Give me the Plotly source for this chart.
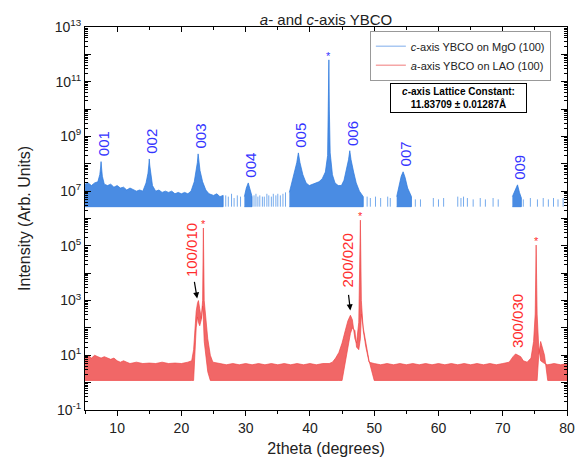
import math
import plotly.graph_objects as go

# ---------------- data ----------------
# c-axis YBCO on MgO (100): dense parts of the noisy trace, segments separated by None
blue_x = [5.0, 5.5, 6.0, 6.5, 7.0, 7.3, 7.42, 7.5, 7.58, 7.7, 8.0, 8.5, 9.0, 9.5, 10.0, 10.5,
          11.0, 11.5, 12.0, 12.5, 13.0, 13.5, 14.0, 14.5, 14.8, 14.93, 15.0, 15.07, 15.2, 15.5,
          16.0, 16.5, 17.0, 17.5, 18.0, 18.5, 19.0, 19.5, 20.0, 20.5, 21.0, 21.5, 22.0, 22.3,
          22.48, 22.6, 22.72, 22.9, 23.3, 23.8, 24.3, 25.0, 25.5, 26.0, 26.5, None,
          29.8, 30.1, 30.4, 30.7, 31.0, None,
          36.8, 37.2, 37.6, 37.95, 38.2, 38.45, 38.9, 39.4, 39.9, 40.4, 40.9, 41.4, 41.9, 42.4,
          42.75, 42.88, 42.95, 43.02, 43.15, 43.5, 43.9, 44.4, 44.9, 45.3, 45.7, 46.0, 46.2,
          46.4, 46.8, 47.2, 47.7, 48.3, None,
          53.5, 53.9, 54.2, 54.5, 54.8, 55.2, 55.8, None,
          71.5, 71.9, 72.3, 72.6, 72.9]
blue_top = [1.8e7, 2.0e7, 1.6e7, 2.0e7, 2.2e7, 4.0e7, 7.0e7, 1.2e8, 7.0e7, 3.5e7, 1.8e7, 1.6e7,
            1.8e7, 1.4e7, 1.6e7, 1.3e7, 1.4e7, 1.1e7, 1.3e7, 1.1e7, 1.0e7, 1.1e7, 1.0e7, 2.0e7,
            4.5e7, 9.0e7, 1.5e8, 9.0e7, 4.5e7, 1.6e7, 1.0e7, 1.1e7, 9.0e6, 1.0e7, 9.0e6, 1.0e7,
            8.0e6, 9.0e6, 8.0e6, 9.0e6, 8.0e6, 1.0e7, 2.2e7, 5.6e7, 1.1e8, 2.3e8, 1.1e8, 5.6e7,
            2.2e7, 1.1e7, 8.0e6, 7.0e6, 8.0e6, 6.3e6, 7.0e6, None,
            6.3e6, 1.3e7, 2.0e7, 1.1e7, 6.3e6, None,
            9.0e6, 2.0e7, 5.0e7, 1.1e8, 2.5e8, 1.1e8, 4.0e7, 2.0e7, 1.6e7, 1.8e7, 2.0e7, 2.2e7,
            2.8e7, 5.0e7, 2.0e8, 1.0e10, 6.3e11, 1.0e10, 2.5e8, 4.0e7, 2.0e7, 1.6e7, 1.6e7,
            2.5e7, 6.3e7, 1.4e8, 3.0e8, 1.4e8, 5.0e7, 2.0e7, 1.0e7, 6.3e6, None,
            6.3e6, 1.6e7, 3.5e7, 5.1e7, 3.2e7, 1.3e7, 6.3e6, None,
            6.3e6, 1.0e7, 1.7e7, 9.0e6, 5.6e6]
blue_floor = 2.7e6
blue_bottom = [None if x is None else blue_floor for x in blue_x]
# isolated noise counts in the sparse parts of the blue trace
blue_spike_x = [26.9, 27.3, 27.8, 28.2, 28.7, 29.2, 31.3, 31.6, 31.9, 32.2, 32.6, 32.9, 33.3,
                33.6, 34.0, 34.3, 34.7, 35.0, 35.4, 35.8, 36.2, 48.9, 49.4, 50.2, 51.0, 52.1,
                52.5, 56.4, 57.2, 59.2, 60.0, 60.8, 63.0, 63.5, 63.9, 64.5, 65.4, 66.5, 67.3,
                68.5, 69.3, 73.2, 74.3, 75.4, 76.3, 77.1, 77.9, 78.6, 79.4]
blue_spike_top = [7.0e6, 6.3e6, 8.0e6, 5.6e6, 7.0e6, 6.3e6, 7.0e6, 8.0e6, 6.3e6, 7.0e6, 6.3e6,
                  6.3e6, 8.0e6, 7.0e6, 6.3e6, 8.0e6, 7.0e6, 8.0e6, 7.0e6, 8.0e6, 9.0e6, 6.3e6,
                  5.6e6, 6.3e6, 5.6e6, 6.3e6, 5.6e6, 5.0e6, 5.0e6, 5.6e6, 5.0e6, 5.6e6, 6.3e6,
                  5.6e6, 6.3e6, 5.6e6, 5.0e6, 5.6e6, 5.0e6, 5.6e6, 5.0e6, 5.0e6, 5.6e6, 5.0e6,
                  5.6e6, 5.0e6, 5.6e6, 5.0e6, 5.6e6]

# a-axis YBCO on LAO (100)
red_x = [5.0, 5.5, 6.0, 6.5, 7.0, 7.5, 8.0, 8.5, 9.0, 9.5, 10.0, 10.5, 11.0, 11.5, 12.0, 13.0,
         14.0, 15.0, 16.0, 17.0, 18.0, 19.0, 20.0, 21.0, 21.6, 21.9, 22.1, 22.3, 22.5, 22.65,
         22.85, 23.1, 23.3, 23.42, 23.55, 23.8, 24.1, 24.5, 24.9, 26.0, 27.0, 28.0, 29.0, 30.0,
         31.0, 32.0, 33.0, 34.0, 35.0, 36.0, 37.0, 38.0, 39.0, 40.0, 41.0, 42.0, 43.0, 43.5,
         44.0, 44.5, 45.0, 45.5, 45.9, 46.3, 46.6, 47.0, 47.25, 47.6, 47.85, 48.0, 48.3, 48.7,
         49.2, 50.0, 51.0, 52.0, 53.0, 54.0, 55.0, 56.0, 57.0, 58.0, 59.0, 60.0, 61.0, 62.0,
         63.0, 64.0, 65.0, 66.0, 67.0, 68.0, 69.0, 70.0, 71.0, 71.6, 72.0, 72.4, 72.8, 73.2,
         73.8, 74.4, 74.8, 75.05, 75.2, 75.35, 75.6, 75.9, 76.5, 77.0, 78.0, 79.0, 80.0]
red_top = [8.9, 10.0, 7.9, 10.0, 8.9, 7.9, 8.9, 7.9, 7.1, 7.9, 6.3, 5.6, 6.3, 5.6, 5.0, 5.6,
           5.0, 5.2, 5.0, 5.6, 5.0, 5.2, 5.0, 5.6, 6.3, 16.0, 100.0, 400.0, 800.0, 1000.0,
           500.0, 220.0, 1000.0, 4.5e5, 1000.0, 160.0, 40.0, 10.0, 5.6, 5.0, 4.5, 5.0, 4.5,
           5.0, 4.5, 5.0, 4.5, 5.0, 4.5, 5.0, 4.5, 5.0, 4.5, 5.0, 4.5, 5.0, 5.0, 5.6, 7.9,
           12.6, 28.0, 80.0, 180.0, 290.0, 200.0, 40.0, 28.0, 160.0, 8.7e5, 1000.0, 80.0,
           20.0, 5.6, 5.0, 4.5, 5.0, 4.5, 5.0, 4.5, 5.0, 4.5, 5.0, 4.5, 5.0, 4.5, 5.0, 4.5,
           5.0, 4.5, 5.0, 4.5, 5.0, 4.5, 5.0, 5.6, 8.9, 11.2, 10.0, 8.9, 6.3, 5.6, 7.9, 32.0,
           320.0, 1.07e5, 320.0, 20.0, 6.3, 5.0, 4.5, 5.0, 4.5, 5.0]
red_bottom = [1.2] * 26 + [10.0, 100.0, 250.0, 160.0, 120.0, 200.0, 630.0, 200.0, 32.0, 10.0,
                           2.5] + [1.2] * 24 + [5.0, 20.0, 63.0, 100.0, 80.0, 20.0, 16.0, 40.0,
                                                320.0, 100.0, 25.0, 6.3] + [1.2] * 33 + \
             [10.0, 32.0, 10.0] + [1.2] * 7

blue_peak_labels = ["001", "002", "003", "004", "005", "006", "007", "009"]
blue_peak_x = [7.5, 15.0, 22.6, 30.4, 38.2, 46.2, 54.5, 72.3]
blue_peak_y = [1.2e8, 1.5e8, 2.3e8, 2.0e7, 2.5e8, 3.0e8, 5.1e7, 1.7e7]
red_peak_labels = ["100/010", "200/020", "300/030"]
substrate_peak_x = [42.95]
substrate_peak_y = [6.3e11]
lao_peak_x = [23.42, 47.85, 75.2]
lao_peak_y = [4.5e5, 8.7e5, 1.07e5]

y_tick_exponents = list(range(-1, 14))
x_tick_values = [10, 20, 30, 40, 50, 60, 70, 80]

# ---------------- styling / building ----------------
BLUE_TXT = "#3535ff"
RED_TXT = "#ff2d2d"
FONT = "Arial, Liberation Sans, sans-serif"


def band(xs, top, bottom):
    px, py = [], []
    sx, st, sb = [], [], []
    for x, t, b in list(zip(xs, top, bottom)) + [(None, None, None)]:
        if x is None:
            if sx:
                px += sx + sx[::-1] + [None]
                py += st + sb[::-1] + [None]
            sx, st, sb = [], [], []
        else:
            sx.append(x)
            st.append(t)
            sb.append(b)
    return px, py


fig = go.Figure()

rx, ry = band(red_x, red_top, red_bottom)
fig.add_trace(go.Scatter(x=rx, y=ry, mode="lines", fill="toself",
                         fillcolor="rgba(238,70,70,0.82)",
                         line=dict(color="rgba(238,70,70,0.85)", width=0.8),
                         showlegend=False, hoverinfo="skip"))

bx, by = band(blue_x, blue_top, blue_bottom)
fig.add_trace(go.Scatter(x=bx, y=by, mode="lines", fill="toself",
                         fillcolor="rgba(42,120,222,0.85)",
                         line=dict(color="rgba(42,120,222,0.9)", width=0.8),
                         showlegend=False, hoverinfo="skip"))

sx, sy = [], []
for x, t in zip(blue_spike_x, blue_spike_top):
    sx += [x, x, None]
    sy += [blue_floor, t, None]
fig.add_trace(go.Scatter(x=sx, y=sy, mode="lines",
                         line=dict(color="rgba(60,135,230,0.7)", width=1),
                         showlegend=False, hoverinfo="skip"))

# legend entries
fig.add_trace(go.Scatter(x=[None], y=[None], mode="lines", xaxis="x2",
                         line=dict(color="#a9c8f2", width=1.5),
                         name="<i>c</i>-axis YBCO on MgO (100)"))
fig.add_trace(go.Scatter(x=[None], y=[None], mode="lines", xaxis="x2",
                         line=dict(color="#f5a6a6", width=1.5),
                         name="<i>a</i>-axis YBCO on LAO (100)"))

ann = []
for lab, x, y in zip(blue_peak_labels, blue_peak_x, blue_peak_y):
    ann.append(dict(x=x, y=math.log10(y), text=lab, showarrow=False, textangle=-90,
                    xanchor="center", yanchor="bottom", xshift=2, yshift=3,
                    font=dict(family=FONT, size=15, color=BLUE_TXT)))

red_label_pos = [(21.56, 4.86), (45.9, 4.46), (72.42, 2.26)]
for lab, (x, y) in zip(red_peak_labels, red_label_pos):
    ann.append(dict(x=x, y=y, text=lab, showarrow=False, textangle=-90,
                    xanchor="center", yanchor="middle",
                    font=dict(family=FONT, size=15, color=RED_TXT)))

for (x, y, axp, ayp) in [(22.45, 3.08, -3, -18), (46.29, 2.64, -2, -17)]:
    ann.append(dict(x=x, y=y, text="", showarrow=True, ax=axp, ay=ayp,
                    arrowhead=2, arrowsize=1, arrowwidth=1.2, arrowcolor="black"))

for x, y in zip(substrate_peak_x, substrate_peak_y):
    ann.append(dict(x=x, y=math.log10(y), text="*", showarrow=False, yanchor="bottom",
                    yshift=-4, font=dict(family=FONT, size=11, color=BLUE_TXT)))
for x, y in zip(lao_peak_x, lao_peak_y):
    ann.append(dict(x=x, y=math.log10(y), text="*", showarrow=False, yanchor="bottom",
                    yshift=-4, font=dict(family=FONT, size=11, color=RED_TXT)))

ann.append(dict(xref="paper", yref="paper", x=0.774, y=0.815, xanchor="center",
                yanchor="middle",
                text="<b><i>c</i>-axis Lattice Constant:</b><br><b>11.83709 ± 0.01287Å</b>",
                showarrow=False, align="center", bordercolor="black", borderwidth=1,
                borderpad=2, bgcolor="white", width=131, height=24,
                font=dict(family=FONT, size=10, color="black")))

ytickvals = [10.0 ** e for e in y_tick_exponents]
yticktext = ["10<sup>%d</sup>" % e if e % 2 else "" for e in y_tick_exponents]
yminor = [m * 10.0 ** e for e in y_tick_exponents[:-1] for m in range(2, 10)]

axis_common = dict(showline=True, linecolor="black", linewidth=1, showgrid=False,
                   zeroline=False, tickcolor="black")

fig.update_layout(
    width=579, height=466,
    margin=dict(l=84.5, r=11.5, t=27.3, b=56, autoexpand=False),
    paper_bgcolor="white", plot_bgcolor="white",
    font=dict(family=FONT, size=14, color="#222"),
    title=dict(text="<i>a</i>- and <i>c</i>-axis YBCO", x=0.5, xref="paper",
               y=1 - 20 / 466, yref="container", yanchor="middle",
               font=dict(family=FONT, size=15, color="#222")),
    xaxis=dict(range=[5, 80], tickmode="array", tickvals=x_tick_values, ticks="outside",
               ticklen=5, mirror=False,
               minor=dict(dtick=5, tick0=0, ticks="outside", ticklen=3, tickcolor="black"),
               title=dict(text="2theta (degrees)", font=dict(size=16), standoff=8),
               tickfont=dict(size=14), **axis_common),
    xaxis2=dict(range=[5, 80], overlaying="x", side="top", anchor="y",
                tickmode="array", tickvals=x_tick_values, ticks="inside", ticklen=5,
                showticklabels=False,
                minor=dict(dtick=5, tick0=0, ticks="inside", ticklen=3, tickcolor="black"),
                **axis_common),
    yaxis=dict(type="log", range=[-1, 13], tickmode="array", tickvals=ytickvals,
               ticktext=yticktext, ticks="inside", ticklen=6, mirror="ticks",
               minor=dict(tickmode="array", tickvals=yminor, ticks="inside", ticklen=3,
                          tickcolor="black"),
               title=dict(text="Intensity (Arb. Units)", font=dict(size=16), standoff=20),
               tickfont=dict(size=14), **axis_common),
    legend=dict(x=0.591, y=0.99, xanchor="left", yanchor="top", bgcolor="white",
                bordercolor="#999", borderwidth=1, font=dict(size=11, color="#222"),
                tracegroupgap=0),
    annotations=ann,
)

fig.write_html("out.html", config={"displayModeBar": False},
               post_script="document.body.style.margin='0px';")
